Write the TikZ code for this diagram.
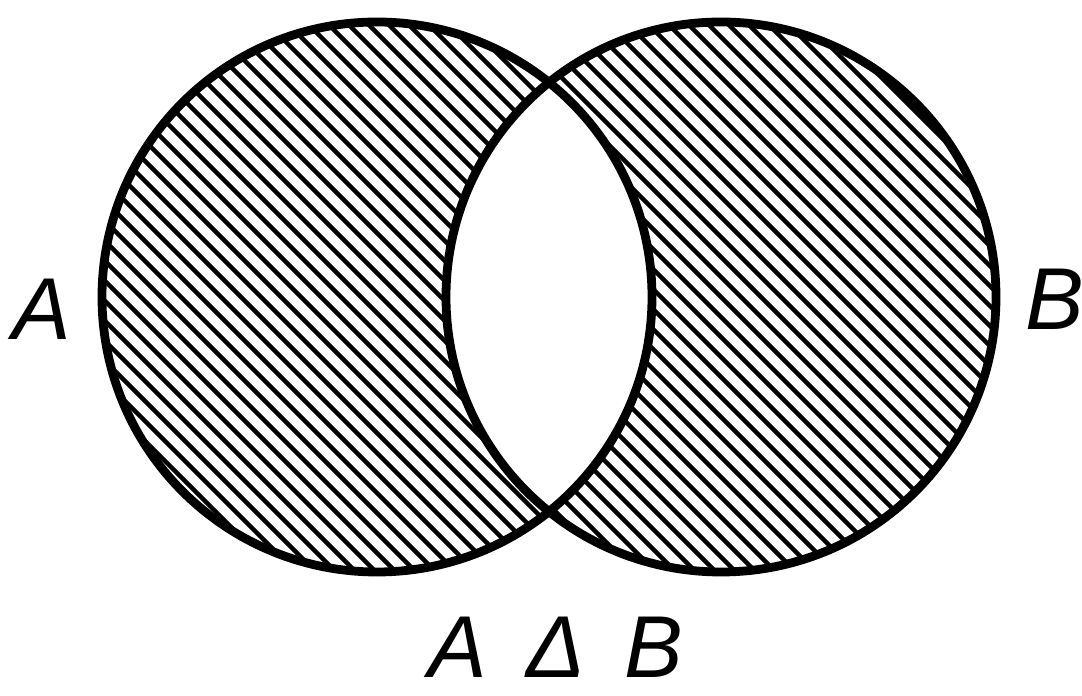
\documentclass[tikz,border=0pt]{standalone}
\usepackage{fontspec}
\setmainfont{Liberation Sans}
\usepackage{tikz}
\usetikzlibrary{positioning}
\tikzset{
  rim/.style   = {draw, line width=5pt},
  hatch/.style = {line width=2.5pt},
  lab/.style   = {font=\fontsize{50}{52}\selectfont\itshape, inner sep=0pt, anchor=base},
}
\begin{document}
\begin{tikzpicture}[x=1cm,y=1cm]
\useasboundingbox (0,0) rectangle (21.64,13.92);
\coordinate (ca) at (7.54,7.98);
\coordinate (cb) at (14.42,7.98);
% hatching of the two lunes only
\begin{scope}[even odd rule]
  \clip (ca) circle (5.5) (cb) circle (5.5);
  \foreach \c in {4,4.4,...,34}{
    \draw[hatch] (\c-14,14) -- (\c,0);}
\end{scope}
% outlines
\draw[rim] (ca) circle (5.5);
\draw[rim] (cb) circle (5.5);
% labels
\node[lab] (la) at (0.84,7.12) {A};
\node[lab] (lb) at (21.1,7.32) {B};
\node[lab] (lab) at (11.12,0.36) {A\hspace{0.45em}Δ\hspace{0.45em}B};
\end{tikzpicture}
\end{document}
